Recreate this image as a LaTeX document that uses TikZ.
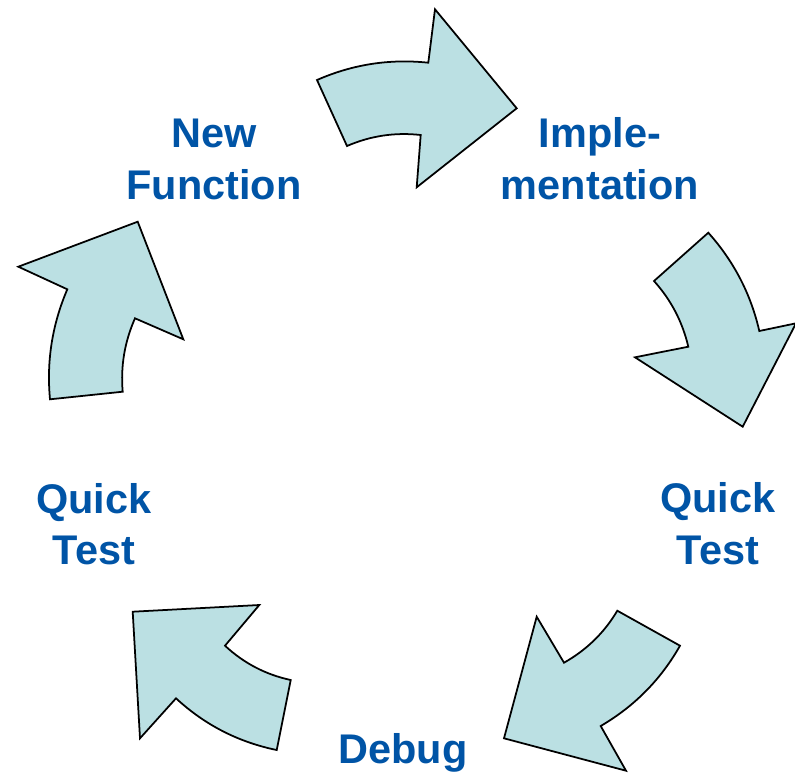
\documentclass[tikz,border=0pt]{standalone}
\usepackage{fontspec}
\setmainfont{Liberation Sans}
\definecolor{arrowfill}{RGB}{187,224,227}
\definecolor{labelblue}{RGB}{0,84,166}
\tikzset{every text node part/.style={align=center}}
\tikzset{cyclearrow/.style={draw=black, fill=arrowfill, line width=1pt, line join=miter}}
\tikzset{steplabel/.style={text=labelblue, font=\fontsize{23.6}{29.3}\selectfont\bfseries, inner sep=0pt}}

\begin{document}
\begin{tikzpicture}[x=0.02cm, y=-0.02cm]
	\useasboundingbox (0,0) rectangle (795,772);
	
	% Step Labels
	\node[steplabel] (newfunc) at (214,159.5) {New\\Function};
	\node[steplabel] (impl) at (600,158.5) {Imple-\\mentation};
	\node[steplabel] (testright) at (718,523.5) {Quick\\Test};
	\node[steplabel, anchor=base] (debug) at (403,763) {Debug};
	\node[steplabel] (testleft) at (94,524) {Quick\\Test};
	
	% Arrows of the Cycle
	\draw[cyclearrow] (317,80) .. controls (352.5,64.4) and (389.6,58.6) .. (428.3,62.7) -- (435,9.3) -- (516.7,108.3)
		-- (416.7,187.3) -- (420.7,135) .. controls (395.1,132.1) and (370.5,135.8) .. (347,146) -- cycle;
	\draw[cyclearrow] (708.3,232.7) -- (654,281) .. controls (671.1,300) and (682.5,321.9) .. (688.3,346.7) -- (635,357.3)
		-- (742.7,426.7) -- (796,323.3) -- (759.3,331) .. controls (750.8,293.9) and (733.8,261.2) .. cycle;
	\draw[cyclearrow] (680,645.7) .. controls (660.8,679.6) and (634.4,706.3) .. (600.7,726) -- (626,770.7) -- (504,738.3)
		-- (536.7,616.7) -- (564,662.7) .. controls (586.5,650) and (604.3,632.7) .. (617.3,610.7) -- cycle;
	\draw[cyclearrow] (290.7,680) -- (276.7,750) .. controls (238.3,742.1) and (204.8,724.9) .. (176,698.3) -- (140,738.3)
		-- (132.7,611.7) -- (259.3,605) -- (225,645.7) .. controls (243.8,663.2) and (265.7,674.6) .. cycle;
	\draw[cyclearrow] (50,399.3) -- (122.7,391.7) .. controls (120.5,366.3) and (124.6,341.8) .. (135,318.3) -- (183.3,339.3)
		-- (137.7,221.7) -- (18.3,266.7) -- (67.3,289.3) .. controls (52.2,324.6) and (46.4,361.2) .. cycle;
\end{tikzpicture}
\end{document}
